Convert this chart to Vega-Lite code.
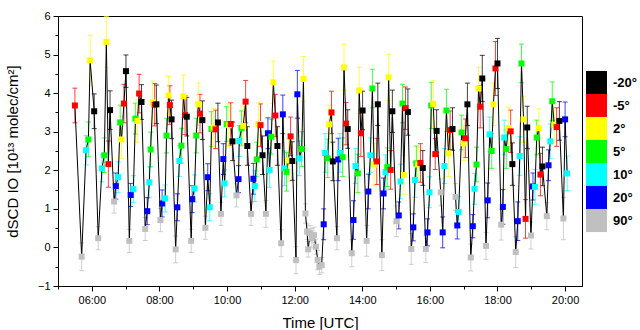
{
"$schema": "https://vega.github.io/schema/vega-lite/v6.json",
"width": 524, "height": 270,
"autosize": "none",
"padding": {"left": 58, "top": 16, "right": 58, "bottom": 44},
"background": "white",
"config": {"font": "Liberation Sans", "view": {"stroke": "black", "strokeWidth": 1}},
"data": {"values": [
{"t":5.50,"v":3.68,"a":"-5°","e":0.45},
{"t":5.70,"v":-0.24,"a":"90°","e":0.36},
{"t":5.83,"v":2.52,"a":"10°","e":0.38},
{"t":5.90,"v":2.80,"a":"5°","e":0.45},
{"t":5.95,"v":4.85,"a":"2°","e":0.65},
{"t":6.07,"v":3.53,"a":"-20°","e":0.45},
{"t":6.19,"v":0.24,"a":"90°","e":0.3},
{"t":6.30,"v":2.05,"a":"10°","e":0.35},
{"t":6.37,"v":2.39,"a":"5°","e":0.45},
{"t":6.43,"v":5.33,"a":"2°","e":0.66},
{"t":6.49,"v":2.16,"a":"-5°","e":0.6},
{"t":6.54,"v":3.56,"a":"-20°","e":0.5},
{"t":6.66,"v":1.19,"a":"90°","e":0.3},
{"t":6.71,"v":1.59,"a":"20°","e":0.34},
{"t":6.78,"v":1.82,"a":"10°","e":0.4},
{"t":6.84,"v":3.24,"a":"5°","e":0.45},
{"t":6.88,"v":2.80,"a":"2°","e":0.5},
{"t":6.95,"v":3.73,"a":"-5°","e":0.5},
{"t":7.01,"v":4.57,"a":"-20°","e":0.42},
{"t":7.11,"v":0.17,"a":"90°","e":0.3},
{"t":7.15,"v":1.36,"a":"20°","e":0.3},
{"t":7.23,"v":1.51,"a":"10°","e":0.35},
{"t":7.29,"v":3.34,"a":"5°","e":0.4},
{"t":7.35,"v":3.28,"a":"2°","e":0.55},
{"t":7.40,"v":3.99,"a":"-5°","e":0.5},
{"t":7.47,"v":3.77,"a":"-20°","e":0.45},
{"t":7.58,"v":0.48,"a":"90°","e":0.3},
{"t":7.64,"v":0.94,"a":"20°","e":0.35},
{"t":7.70,"v":1.69,"a":"10°","e":0.4},
{"t":7.74,"v":2.54,"a":"5°","e":0.45},
{"t":7.80,"v":3.76,"a":"2°","e":0.55},
{"t":7.86,"v":3.70,"a":"-5°","e":0.55},
{"t":7.91,"v":3.71,"a":"-20°","e":0.5},
{"t":8.03,"v":0.71,"a":"90°","e":0.3},
{"t":8.08,"v":1.14,"a":"20°","e":0.35},
{"t":8.17,"v":1.27,"a":"10°","e":0.35},
{"t":8.21,"v":2.90,"a":"5°","e":0.45},
{"t":8.27,"v":3.94,"a":"2°","e":0.5},
{"t":8.31,"v":3.69,"a":"-5°","e":0.5},
{"t":8.36,"v":3.32,"a":"-20°","e":0.5},
{"t":8.48,"v":-0.05,"a":"90°","e":0.35},
{"t":8.53,"v":1.04,"a":"20°","e":0.35},
{"t":8.59,"v":2.24,"a":"10°","e":0.4},
{"t":8.65,"v":2.64,"a":"5°","e":0.45},
{"t":8.71,"v":3.92,"a":"2°","e":0.55},
{"t":8.76,"v":3.43,"a":"-5°","e":0.5},
{"t":8.81,"v":3.39,"a":"-20°","e":0.5},
{"t":8.94,"v":0.17,"a":"90°","e":0.3},
{"t":8.97,"v":1.25,"a":"20°","e":0.35},
{"t":9.04,"v":1.53,"a":"10°","e":0.35},
{"t":9.09,"v":2.90,"a":"5°","e":0.45},
{"t":9.15,"v":3.71,"a":"2°","e":0.55},
{"t":9.20,"v":3.47,"a":"-5°","e":0.5},
{"t":9.27,"v":3.30,"a":"-20°","e":0.5},
{"t":9.36,"v":0.51,"a":"90°","e":0.3},
{"t":9.43,"v":1.82,"a":"20°","e":0.35},
{"t":9.49,"v":1.04,"a":"10°","e":0.35},
{"t":9.54,"v":3.07,"a":"5°","e":0.45},
{"t":9.60,"v":3.11,"a":"2°","e":0.5},
{"t":9.66,"v":3.06,"a":"-5°","e":0.5},
{"t":9.73,"v":3.24,"a":"-20°","e":0.5},
{"t":9.82,"v":0.87,"a":"90°","e":0.3},
{"t":9.89,"v":2.29,"a":"20°","e":0.4},
{"t":9.93,"v":1.66,"a":"10°","e":0.35},
{"t":9.99,"v":3.20,"a":"5°","e":0.45},
{"t":10.05,"v":3.17,"a":"2°","e":0.55},
{"t":10.11,"v":3.20,"a":"-5°","e":0.55},
{"t":10.16,"v":2.75,"a":"-20°","e":0.5},
{"t":10.28,"v":1.35,"a":"90°","e":0.3},
{"t":10.34,"v":1.77,"a":"20°","e":0.35},
{"t":10.36,"v":2.76,"a":"10°","e":0.4},
{"t":10.43,"v":3.09,"a":"5°","e":0.45},
{"t":10.48,"v":3.15,"a":"2°","e":0.5},
{"t":10.55,"v":3.78,"a":"-5°","e":0.55},
{"t":10.60,"v":2.63,"a":"-20°","e":0.5},
{"t":10.71,"v":0.87,"a":"90°","e":0.3},
{"t":10.78,"v":1.78,"a":"20°","e":0.4},
{"t":10.82,"v":1.59,"a":"10°","e":0.4},
{"t":10.88,"v":2.28,"a":"5°","e":0.45},
{"t":10.93,"v":3.20,"a":"2°","e":0.55},
{"t":10.99,"v":3.17,"a":"-5°","e":0.55},
{"t":11.05,"v":2.39,"a":"-20°","e":0.5},
{"t":11.15,"v":0.87,"a":"90°","e":0.35},
{"t":11.21,"v":2.96,"a":"20°","e":0.4},
{"t":11.26,"v":2.01,"a":"10°","e":0.45},
{"t":11.31,"v":2.87,"a":"5°","e":0.45},
{"t":11.37,"v":4.28,"a":"2°","e":0.55},
{"t":11.43,"v":3.42,"a":"-5°","e":0.55},
{"t":11.49,"v":2.63,"a":"-20°","e":0.5},
{"t":11.60,"v":0.11,"a":"90°","e":0.35},
{"t":11.65,"v":3.45,"a":"20°","e":0.5},
{"t":11.70,"v":2.05,"a":"10°","e":0.45},
{"t":11.76,"v":1.96,"a":"5°","e":0.5},
{"t":11.82,"v":2.26,"a":"2°","e":0.55},
{"t":11.88,"v":2.88,"a":"-5°","e":0.5},
{"t":11.93,"v":2.24,"a":"-20°","e":0.5},
{"t":12.04,"v":-0.33,"a":"90°","e":0.35},
{"t":12.08,"v":3.97,"a":"20°","e":0.62},
{"t":12.14,"v":2.31,"a":"10°","e":0.45},
{"t":12.21,"v":2.55,"a":"5°","e":0.45},
{"t":12.26,"v":4.37,"a":"2°","e":0.58},
{"t":12.32,"v":0.88,"a":"90°","e":0.25},
{"t":12.37,"v":0.41,"a":"90°","e":0.2},
{"t":12.40,"v":-0.05,"a":"90°","e":0.2},
{"t":12.46,"v":0.37,"a":"90°","e":0.2},
{"t":12.51,"v":0.24,"a":"90°","e":0.25},
{"t":12.57,"v":0.32,"a":"90°","e":0.2},
{"t":12.63,"v":0.02,"a":"90°","e":0.2},
{"t":12.68,"v":-0.33,"a":"90°","e":0.25},
{"t":12.73,"v":-0.50,"a":"90°","e":0.2},
{"t":12.80,"v":-0.46,"a":"90°","e":0.2},
{"t":12.86,"v":0.60,"a":"20°","e":0.4},
{"t":12.90,"v":2.45,"a":"10°","e":0.5},
{"t":12.98,"v":2.31,"a":"5°","e":0.5},
{"t":13.02,"v":3.19,"a":"2°","e":0.5},
{"t":13.09,"v":3.50,"a":"-5°","e":0.55},
{"t":13.13,"v":2.23,"a":"-20°","e":0.5},
{"t":13.25,"v":0.24,"a":"90°","e":0.3},
{"t":13.29,"v":2.28,"a":"20°","e":0.55},
{"t":13.34,"v":2.45,"a":"10°","e":0.5},
{"t":13.42,"v":2.34,"a":"5°","e":0.5},
{"t":13.46,"v":4.67,"a":"2°","e":0.6},
{"t":13.52,"v":3.21,"a":"-5°","e":0.55},
{"t":13.57,"v":3.07,"a":"-20°","e":0.5},
{"t":13.69,"v":-0.15,"a":"90°","e":0.35},
{"t":13.74,"v":0.71,"a":"20°","e":0.5},
{"t":13.80,"v":2.11,"a":"10°","e":0.45},
{"t":13.87,"v":1.92,"a":"5°","e":0.5},
{"t":13.91,"v":4.07,"a":"2°","e":0.6},
{"t":13.96,"v":2.96,"a":"-5°","e":0.6},
{"t":14.01,"v":3.55,"a":"-20°","e":0.5},
{"t":14.13,"v":0.17,"a":"90°","e":0.4},
{"t":14.18,"v":1.45,"a":"20°","e":0.45},
{"t":14.24,"v":2.39,"a":"10°","e":0.45},
{"t":14.30,"v":4.12,"a":"5°","e":0.5},
{"t":14.35,"v":2.15,"a":"2°","e":0.55},
{"t":14.43,"v":2.23,"a":"-5°","e":0.6},
{"t":14.46,"v":3.71,"a":"-20°","e":0.55},
{"t":14.58,"v":-0.20,"a":"90°","e":0.4},
{"t":14.63,"v":1.40,"a":"20°","e":0.4},
{"t":14.69,"v":1.95,"a":"10°","e":0.45},
{"t":14.74,"v":2.08,"a":"5°","e":0.5},
{"t":14.78,"v":4.41,"a":"2°","e":0.6},
{"t":14.84,"v":2.01,"a":"-5°","e":0.5},
{"t":14.89,"v":3.53,"a":"-20°","e":0.55},
{"t":15.01,"v":0.68,"a":"90°","e":0.4},
{"t":15.08,"v":0.83,"a":"20°","e":0.35},
{"t":15.13,"v":1.71,"a":"10°","e":0.45},
{"t":15.19,"v":3.73,"a":"5°","e":0.5},
{"t":15.23,"v":1.88,"a":"2°","e":0.5},
{"t":15.28,"v":3.61,"a":"-5°","e":0.55},
{"t":15.35,"v":3.51,"a":"-20°","e":0.6},
{"t":15.45,"v":-0.04,"a":"90°","e":0.4},
{"t":15.51,"v":0.52,"a":"20°","e":0.35},
{"t":15.56,"v":1.75,"a":"10°","e":0.45},
{"t":15.60,"v":2.18,"a":"5°","e":0.45},
{"t":15.65,"v":2.15,"a":"2°","e":0.45},
{"t":15.72,"v":2.19,"a":"-5°","e":0.5},
{"t":15.79,"v":2.06,"a":"-20°","e":0.45},
{"t":15.88,"v":-0.04,"a":"90°","e":0.35},
{"t":15.93,"v":0.39,"a":"20°","e":0.35},
{"t":15.99,"v":1.43,"a":"10°","e":0.4},
{"t":16.04,"v":3.68,"a":"5°","e":0.6},
{"t":16.10,"v":3.72,"a":"2°","e":0.6},
{"t":16.16,"v":2.42,"a":"-5°","e":0.4},
{"t":16.20,"v":3.02,"a":"-20°","e":0.55},
{"t":16.32,"v":1.43,"a":"90°","e":0.35},
{"t":16.38,"v":0.39,"a":"20°","e":0.4},
{"t":16.43,"v":2.11,"a":"10°","e":0.45},
{"t":16.49,"v":3.55,"a":"5°","e":0.55},
{"t":16.55,"v":2.44,"a":"2°","e":0.6},
{"t":16.60,"v":3.04,"a":"-5°","e":0.5},
{"t":16.67,"v":3.07,"a":"-20°","e":0.55},
{"t":16.76,"v":1.31,"a":"90°","e":0.35},
{"t":16.81,"v":0.57,"a":"20°","e":0.35},
{"t":16.85,"v":0.92,"a":"10°","e":0.4},
{"t":16.94,"v":2.98,"a":"5°","e":0.45},
{"t":17.00,"v":2.70,"a":"2°","e":0.45},
{"t":17.05,"v":2.83,"a":"-5°","e":0.5},
{"t":17.11,"v":3.71,"a":"-20°","e":0.55},
{"t":17.21,"v":-0.26,"a":"90°","e":0.35},
{"t":17.27,"v":0.55,"a":"20°","e":0.3},
{"t":17.32,"v":1.52,"a":"10°","e":0.4},
{"t":17.38,"v":2.15,"a":"5°","e":0.45},
{"t":17.44,"v":4.12,"a":"2°","e":0.55},
{"t":17.49,"v":3.65,"a":"-5°","e":0.55},
{"t":17.55,"v":4.38,"a":"-20°","e":0.6},
{"t":17.66,"v":0.04,"a":"90°","e":0.35},
{"t":17.71,"v":1.22,"a":"20°","e":0.45},
{"t":17.77,"v":2.93,"a":"10°","e":0.45},
{"t":17.83,"v":2.50,"a":"5°","e":0.45},
{"t":17.88,"v":3.71,"a":"2°","e":0.55},
{"t":17.94,"v":4.64,"a":"-5°","e":0.7},
{"t":18.00,"v":4.77,"a":"-20°","e":0.65},
{"t":18.11,"v":0.59,"a":"90°","e":0.4},
{"t":18.16,"v":1.05,"a":"20°","e":0.45},
{"t":18.20,"v":2.85,"a":"10°","e":0.45},
{"t":18.26,"v":2.55,"a":"5°","e":0.5},
{"t":18.32,"v":3.09,"a":"2°","e":0.55},
{"t":18.39,"v":3.01,"a":"-5°","e":0.55},
{"t":18.44,"v":2.16,"a":"-20°","e":0.55},
{"t":18.54,"v":-0.12,"a":"90°","e":0.4},
{"t":18.60,"v":0.68,"a":"20°","e":0.5},
{"t":18.66,"v":2.37,"a":"10°","e":0.5},
{"t":18.71,"v":4.77,"a":"5°","e":0.5},
{"t":18.77,"v":3.32,"a":"2°","e":0.6},
{"t":18.83,"v":0.74,"a":"-5°","e":0.5},
{"t":18.88,"v":3.11,"a":"-20°","e":0.55},
{"t":18.99,"v":0.31,"a":"90°","e":0.35},
{"t":19.05,"v":1.58,"a":"20°","e":0.35},
{"t":19.11,"v":1.57,"a":"10°","e":0.45},
{"t":19.16,"v":2.85,"a":"5°","e":0.45},
{"t":19.22,"v":3.09,"a":"2°","e":0.5},
{"t":19.27,"v":1.89,"a":"-5°","e":0.55},
{"t":19.33,"v":2.10,"a":"-20°","e":0.5},
{"t":19.46,"v":0.81,"a":"90°","e":0.35},
{"t":19.51,"v":2.13,"a":"20°","e":0.4},
{"t":19.56,"v":2.75,"a":"10°","e":0.45},
{"t":19.62,"v":3.79,"a":"5°","e":0.5},
{"t":19.68,"v":3.18,"a":"2°","e":0.45},
{"t":19.75,"v":3.12,"a":"-5°","e":0.5},
{"t":19.83,"v":3.28,"a":"-20°","e":0.5},
{"t":19.95,"v":0.75,"a":"90°","e":0.55},
{"t":20.00,"v":3.32,"a":"20°","e":0.45},
{"t":20.06,"v":1.92,"a":"10°","e":0.45}
]},
"resolve": {"axis": {"x": "independent", "y": "independent"}, "scale": {"color": "independent"}},
"layer": [
{
"mark": {"type": "errorbar", "ticks": {"size": 5, "opacity": 0.75}, "rule": {"opacity": 0.75}, "thickness": 1},
"encoding": {
"x": {"field": "t", "type": "quantitative", "scale": {"domain": [5, 20.5], "nice": false, "zero": false},
"axis": {"orient": "bottom", "values": [5,7,9,11,13,15,17,19], "labels": false, "domain": false, "grid": false, "tickSize": 3, "tickColor": "black", "title": null}},
"y": {"field": "v", "type": "quantitative", "scale": {"domain": [-1, 6], "nice": false, "zero": false},
"axis": {"orient": "left", "values": [-0.5,0.5,1.5,2.5,3.5,4.5,5.5], "labels": false, "domain": false, "grid": false, "tickSize": 3, "tickColor": "black", "title": null}},
"yError": {"field": "e"},
"color": {"field": "a", "type": "nominal", "legend": null,
"scale": {"domain": ["-20°","-5°","2°","5°","10°","20°","90°"], "range": ["#000000","#ff0000","#ffff00","#00ff00","#00ffff","#0000ff","#c0c0c0"]}}
}
},
{
"mark": {"type": "line", "color": "black", "strokeWidth": 1},
"encoding": {
"x": {"field": "t", "type": "quantitative",
"axis": {"orient": "bottom", "values": [6,8,10,12,14,16,18,20], "labelExpr": "(datum.value<10?'0':'')+datum.value+':00'", "grid": false, "tickSize": 5, "tickColor": "black", "domainColor": "black", "labelColor": "black", "labelFont": "Liberation Sans", "labelFontSize": 11, "labelPadding": 3, "title": "Time [UTC]", "titleFont": "Liberation Sans", "titleFontSize": 15, "titleFontWeight": "normal", "titleColor": "black", "titleY": 36, "titleBaseline": "middle"}},
"y": {"field": "v", "type": "quantitative",
"axis": {"orient": "left", "values": [-1,0,1,2,3,4,5,6], "grid": false, "tickSize": 5, "tickColor": "black", "domainColor": "black", "labelColor": "black", "labelFont": "Liberation Sans", "labelFontSize": 11, "labelPadding": 3, "title": "dSCD IO [10¹³ molec/cm²]", "titleFont": "Liberation Sans", "titleFontSize": 15, "titleFontWeight": "normal", "titleColor": "black", "titleX": -46, "titleY": 135, "titleAlign": "center", "titleBaseline": "middle"}},
"order": {"field": "t", "type": "quantitative"}
}
},
{
"mark": {"type": "square", "size": 36, "filled": true, "opacity": 1},
"encoding": {
"x": {"field": "t", "type": "quantitative", "axis": null},
"y": {"field": "v", "type": "quantitative", "axis": null},
"color": {"field": "a", "type": "nominal",
"scale": {"domain": ["-20°","-5°","2°","5°","10°","20°","90°"], "range": ["#000000","#ff0000","#ffff00","#00ff00","#00ffff","#0000ff","#c0c0c0"]},
"legend": {"orient": "none", "legendX": 528, "legendY": 56, "title": null, "padding": 0,
"symbolType": "M-1,-1.1H1V1.1H-1Z", "symbolSize": 441, "symbolStrokeWidth": 0, "symbolOpacity": 1,
"labelFont": "Liberation Sans", "labelFontSize": 13, "labelFontWeight": "bold", "labelColor": "black", "labelOffset": 6, "rowPadding": -2}}
}
}
]
}
